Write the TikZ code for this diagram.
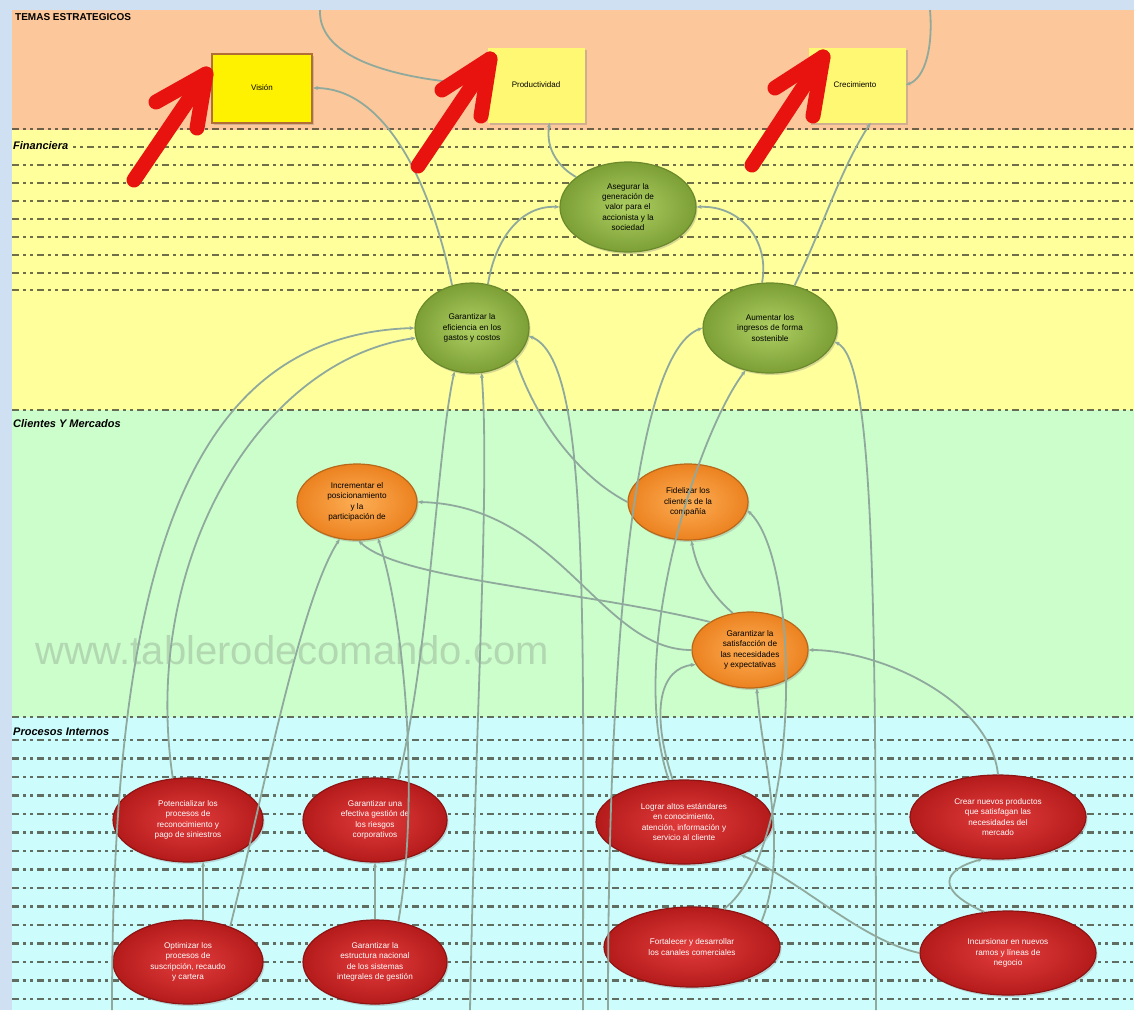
\documentclass[tikz,border=0pt]{standalone}
\usepackage{fontspec}
\setmainfont{Liberation Sans}
\usetikzlibrary{shapes.geometric,arrows.meta,shadows}

\definecolor{framebg}{HTML}{CFE0F3}
\definecolor{bandorange}{HTML}{FCC79A}
\definecolor{bandyellow}{HTML}{FFFF9C}
\definecolor{bandgreen}{HTML}{CCFECC}
\definecolor{bandcyan}{HTML}{CCFCFC}
\definecolor{rowline}{HTML}{3E3E2E}
\definecolor{linkgray}{HTML}{90A99D}
\definecolor{arrowred}{HTML}{E8130E}
\definecolor{markmark}{HTML}{B2D8B2}
\definecolor{finin}{HTML}{AECF62}
\definecolor{finout}{HTML}{7C9F36}
\definecolor{finedge}{HTML}{6A8A2C}
\definecolor{cliin}{HTML}{FDAE55}
\definecolor{cliout}{HTML}{EC8220}
\definecolor{cliedge}{HTML}{B86818}
\definecolor{proin}{HTML}{E23C3C}
\definecolor{proout}{HTML}{B51B1B}
\definecolor{proedge}{HTML}{8E1414}

\begin{document}
\begin{tikzpicture}[x=1pt,y=-1pt,
  rowdash/.style={draw=rowline, opacity=0.75, line width=2.2pt,
    dash pattern=on 7pt off 4pt on 3pt off 4pt on 3pt off 4pt},
  seclabel/.style={anchor=west, inner sep=0pt, font=\fontsize{11}{12}\selectfont\bfseries\itshape},
  themebox/.style={rectangle, minimum width=97pt, minimum height=75pt, inner sep=0pt,
    font=\fontsize{8}{10}\selectfont, fill=yellow!55!white,
    drop shadow={opacity=0.35, shadow xshift=2pt, shadow yshift=-2pt}},
  obj/.style={ellipse, inner sep=0pt, align=center, line width=1.2pt,
    font=\fontsize{8.2}{10.4}\selectfont,
    drop shadow={opacity=0.3, shadow xshift=1.5pt, shadow yshift=-2pt}},
  finobj/.style={obj, draw=finedge, inner color=finin, outer color=finout},
  cliobj/.style={obj, draw=cliedge, inner color=cliin, outer color=cliout},
  proobj/.style={obj, draw=proedge, text=white, inner color=proin, outer color=proout},
  link/.style={draw=linkgray, line width=1.8pt, -{Stealth[length=5pt,width=4pt]}},
  bigarrow/.style={draw=arrowred, line width=15pt, line cap=round, line join=round}]

\useasboundingbox (0,0) rectangle (1134,1010);

% bands of the map
\fill[framebg] (0,0) rectangle (1134,1010);
\fill[bandorange] (12,10) rectangle (1134,130);
\fill[bandyellow] (12,130) rectangle (1134,410);
\fill[bandgreen] (12,410) rectangle (1134,717);
\fill[bandcyan] (12,717) rectangle (1134,1010);

% ruled rows
\foreach \y in {129,147,165,183,201,219,237,255,273,290,410,717}
  \draw[rowdash] (12,\y) -- (1134,\y);
\foreach \y in {740,758.5,777,795.5,814,832.5,851,869.5,888,906.5,925,943.5,962,980.5,999}
  \draw[rowdash] (12,\y) -- (1134,\y);

% section titles
\node[seclabel, font=\fontsize{10}{12}\selectfont\bfseries] (tTemas) at (15,17) {TEMAS ESTRATEGICOS};
\node[seclabel, fill=bandyellow, inner xsep=1pt] (tFin) at (12,146) {Financiera};
\node[seclabel, fill=bandgreen, inner xsep=1pt] (tCli) at (12,424) {Clientes Y Mercados};
\node[seclabel, fill=bandcyan, inner xsep=1pt] (tPro) at (12,732) {Procesos Internos};

% watermark
\node[text=markmark, font=\fontsize{40}{44}\selectfont, inner sep=0pt] (mark) at (292,650) {www.tablerodecomando.com};

% strategic themes
\node[themebox, fill=yellow, draw=black!55!yellow!60!red, line width=2pt, minimum width=100pt, minimum height=69pt] (vis) at (262,88) {Visión};
\node[themebox] (prod) at (536,85) {Productividad};
\node[themebox] (crec) at (857,85) {\hspace*{-4pt}Crecimiento};

% financial objectives
\node[finobj, minimum width=136pt, minimum height=90pt] (aseg) at (628,207)
  {Asegurar la\\generación de\\valor para el\\accionista y la\\sociedad};
\node[finobj, minimum width=114pt, minimum height=90pt] (gastos) at (472,328)
  {Garantizar la\\eficiencia en los\\gastos y costos};
\node[finobj, minimum width=134pt, minimum height=90pt] (ingresos) at (770,328)
  {Aumentar los\\ingresos de forma\\sostenible};

% customer objectives
\node[cliobj, minimum width=120pt, minimum height=76pt] (posic) at (357,502)
  {Incrementar el\\posicionamiento\\y la\\participación de};
\node[cliobj, minimum width=120pt, minimum height=76pt] (fidel) at (688,502)
  {Fidelizar los\\clientes de la\\compañía};
\node[cliobj, minimum width=116pt, minimum height=76pt] (satisf) at (750,650)
  {Garantizar la\\satisfacción de\\las necesidades\\y expectativas};

% internal process objectives
\node[proobj, minimum width=150pt, minimum height=84pt] (pot) at (188,820)
  {Potencializar los\\procesos de\\reconocimiento y\\pago de siniestros};
\node[proobj, minimum width=144pt, minimum height=84pt] (riesg) at (375,820)
  {Garantizar una\\efectiva gestión de\\los riesgos\\corporativos};
\node[proobj, minimum width=176pt, minimum height=84pt] (logr) at (684,822)
  {Lograr altos estándares\\en conocimiento,\\atención, información y\\servicio al cliente};
\node[proobj, minimum width=176pt, minimum height=84pt] (crear) at (998,817)
  {Crear nuevos productos\\que satisfagan las\\necesidades del\\mercado};
\node[proobj, minimum width=150pt, minimum height=84pt] (optim) at (188,962)
  {Optimizar los\\procesos de\\suscripción, recaudo\\y cartera};
\node[proobj, minimum width=144pt, minimum height=84pt] (estr) at (375,962)
  {Garantizar la\\estructura nacional\\de los sistemas\\integrales de gestión};
\node[proobj, minimum width=176pt, minimum height=80pt] (fort) at (692,947)
  {Fortalecer y desarrollar\\los canales comerciales};
\node[proobj, minimum width=176pt, minimum height=84pt] (incur) at (1008,953)
  {Incursionar en nuevos\\ramos y líneas de\\negocio};

% loose ends of connectors leaving the sheet
\coordinate (tA) at (320,10);
\coordinate (tB) at (930,10);
\coordinate (b112) at (112,1010);
\coordinate (b470) at (470,1010);
\coordinate (b583) at (583,1010);
\coordinate (b608) at (608,1010);
\coordinate (b875) at (876,1010);

% cause-effect links
\draw[link] (tA) .. controls (318,60) and (400,80) .. (prod.west);
\draw[link] (tB) .. controls (933,45) and (926,78) .. (crec.east);
\draw[link] (gastos.115) .. controls (428,170) and (380,88) .. (vis.east);
\draw[link] (aseg.150) .. controls (560,168) and (545,150) .. (prod.-70);
\draw[link] (gastos.70) .. controls (495,240) and (520,205) .. (aseg.west);
\draw[link] (ingresos.100) .. controls (770,240) and (740,205) .. (aseg.east);
\draw[link] (ingresos.60) .. controls (826,220) and (840,170) .. (crec.-70);
\draw[link] (fidel.west) .. controls (585,480) and (540,430) .. (gastos.-35);
\draw[link] (b470) .. controls (476,700) and (490,480) .. (gastos.-78);
\draw[link] (b112) .. controls (112,560) and (190,335) .. (gastos.west);
\draw[link] (pot.110) .. controls (140,560) and (260,360) .. (gastos.190);
\draw[link] (riesg.60) .. controls (430,650) and (437,450) .. (gastos.-112);
\draw[link] (b583) .. controls (583,600) and (590,360) .. (gastos.-8);
\draw[link] (b608) .. controls (608,600) and (640,350) .. (ingresos.west);
\draw[link] (b875) .. controls (876,560) and (872,360) .. (ingresos.-12);
\draw[link] (logr.110) .. controls (625,650) and (700,430) .. (ingresos.-120);
\draw[link] (satisf.145) .. controls (580,590) and (400,580) .. (posic.-88);
\draw[link] (satisf.west) .. controls (600,650) and (560,505) .. (posic.east);
\draw[link] (satisf.115) .. controls (706,590) and (696,565) .. (fidel.-85);
\draw[link] (crear.north) .. controls (990,700) and (880,650) .. (satisf.east);
\draw[link] (fort.20) .. controls (790,850) and (762,760) .. (satisf.-80);
\draw[link] (fort.50) .. controls (802,850) and (802,560) .. (fidel.-8);
\draw[link] (logr.105) .. controls (650,710) and (660,668) .. (satisf.195);
\draw[link] (estr.north) -- (riesg.south);
\draw[link] (estr.60) .. controls (420,800) and (405,620) .. (posic.-60);
\draw[link] (optim.70) -- (pot.-70);
\draw[link] (optim.40) .. controls (262,800) and (300,600) .. (posic.-115);
\draw[link] (incur.west) .. controls (860,940) and (800,880) .. (logr.-30);
\draw[link] (incur.120) .. controls (935,890) and (942,870) .. (crear.-110);

% highlighting arrows on the themes
\coordinate (a1t) at (206,74);  \coordinate (a1s) at (134,180);
\coordinate (a1l) at (156,102); \coordinate (a1r) at (197,128);
\coordinate (a2t) at (490,59);  \coordinate (a2s) at (418,166);
\coordinate (a2l) at (442,90);  \coordinate (a2r) at (481,116);
\coordinate (a3t) at (823,57);  \coordinate (a3s) at (752,165);
\coordinate (a3l) at (775,88);  \coordinate (a3r) at (813,116);
\foreach \i in {1,2,3} {
  \draw[bigarrow] (a\i s) -- (a\i t);
  \draw[bigarrow] (a\i l) -- (a\i t) -- (a\i r);
}
\end{tikzpicture}
\end{document}
